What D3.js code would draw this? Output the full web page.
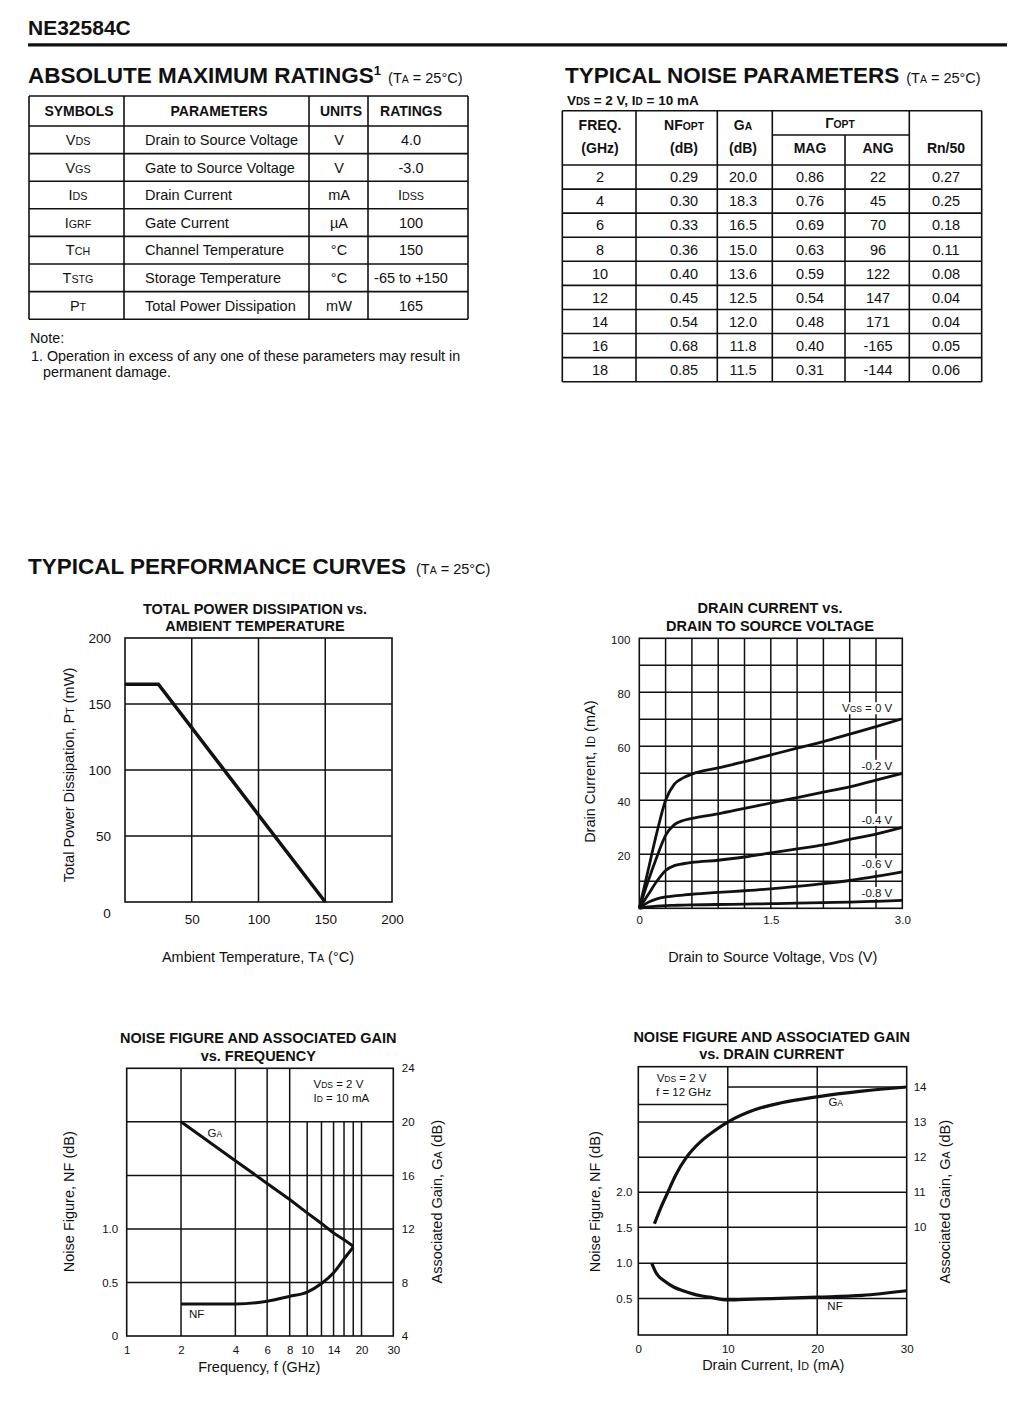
<!DOCTYPE html>
<html><head><meta charset="utf-8">
<script src="https://cdn.jsdelivr.net/npm/d3@7"></script>
<style>body{margin:0;background:#fff}svg{display:block;font-family:"Liberation Sans",Arial,Helvetica,sans-serif}</style>
</head><body><script>
// ================= DATA =================
// Absolute maximum ratings table
const amrSymbols = ["V~DS~","V~GS~","I~DS~","I~GRF~","T~CH~","T~STG~","P~T~"];
const amrParams  = ["Drain to Source Voltage","Gate to Source Voltage","Drain Current","Gate Current","Channel Temperature","Storage Temperature","Total Power Dissipation"];
const amrUnits   = ["V","V","mA","µA","°C","°C","mW"];
const amrRatings = ["4.0","-3.0","I~DSS~","100","150","-65 to +150","165"];

// Typical noise parameters table
const tnpFreq  = [2,4,6,8,10,12,14,16,18];
const tnpNFopt = [0.29,0.30,0.33,0.36,0.40,0.45,0.54,0.68,0.85];
const tnpGa    = [20.0,18.3,16.5,15.0,13.6,12.5,12.0,11.8,11.5];
const tnpMag   = [0.86,0.76,0.69,0.63,0.59,0.54,0.48,0.40,0.31];
const tnpAng   = [22,45,70,96,122,147,171,-165,-144];
const tnpRn    = [0.27,0.25,0.18,0.11,0.08,0.04,0.04,0.05,0.06];

// Chart 1: total power dissipation vs ambient temperature
const pdTemp  = [0,25,150];
const pdPower = [165,165,0];
const pdTicksX = [50,100,150,200];
const pdTicksY = [50,100,150,200];

// Chart 2: drain current vs drain-source voltage
const ivVds   = [0,0.1,0.2,0.3,0.4,0.5,0.6,0.9,1.2,1.5,1.8,2.1,2.4,2.7,3.0];
const ivVgs0  = [0,14,28,40,46,48.3,49.7,52,54.3,56.8,59.3,61.7,64.5,67.3,70.2];
const ivVgs02 = [0,10,19,27,31,32.5,33.3,35,37,39,41,43,45,47.5,50];
const ivVgs04 = [0,5,10,14,15.8,16.5,17,17.8,19,20.5,22,23.5,25.5,27.5,30];
const ivVgs06 = [0,2.2,3.5,4.2,4.6,4.9,5.2,5.9,6.5,7.2,8.1,9.1,10.3,11.8,13.5];
const ivVgs08 = [0,0.5,0.8,1.0,1.1,1.2,1.25,1.4,1.55,1.7,1.9,2.1,2.3,2.6,2.9];
const ivLabels = ["V~GS~ = 0 V","-0.2 V","-0.4 V","-0.6 V","-0.8 V"];
const ivTicksX = [0,1.5,3.0];
const ivTicksY = [20,40,60,80,100];

// Chart 3: NF and GA vs frequency
const nfFreq   = [2,4,6,8,10,12,14,16,18];
const nfVsFreq = [0.30,0.30,0.325,0.37,0.41,0.49,0.59,0.72,0.83];
const gaVsFreq = [20,17.1,15.4,14.2,13.2,12.4,11.7,11.2,10.7];
const fTicks   = [1,2,4,6,8,10,14,20,30];
const fFullGrid = [2,4,6,8];
const fPartGrid = [10,12,14,16,18,20];
const nfTicks3 = [0,0.5,1.0];
const gaTicks3 = [4,8,12,16,20,24];

// Chart 4: NF and GA vs drain current
const gaId   = [1.8,2.5,3.3,4.2,5.4,7,8.5,10,13,16,20,25,30];
const gaVsId = [10.1,10.55,11.0,11.5,12.0,12.45,12.75,13.0,13.35,13.55,13.72,13.88,14.0];
const nfId   = [1.5,2,3,4,5,6,7,8,10,12,15,20,25,30];
const nfVsId = [1.0,0.86,0.74,0.66,0.61,0.57,0.54,0.52,0.48,0.49,0.50,0.52,0.545,0.61];
const idTicks  = [0,10,20,30];
const nfTicks4 = [0.5,1.0,1.5,2.0];
const gaTicks4 = [10,11,12,13,14];

// ================= DRAWING =================
const INK = "#111";
const svg = d3.select("body").append("svg").attr("width",1026).attr("height",1404);
svg.append("rect").attr("width",1026).attr("height",1404).attr("fill","#fff");

function rich(g, x, y, str, o = {}) {
  const size = o.size || 14;
  const t = g.append("text").attr("x",x).attr("y",y)
    .attr("text-anchor",o.anchor || "start").attr("font-size",size)
    .attr("font-weight",o.weight || "normal").attr("fill",INK);
  if (o.dy) t.attr("dy",o.dy);
  if (o.rotate) t.attr("transform",`rotate(${o.rotate},${x},${y})`);
  String(str).split("~").forEach((s,i) => {
    if (!s) return;
    const ts = t.append("tspan").text(s);
    if (i % 2) ts.attr("font-size", size*0.74);
  });
  return t;
}
function line(g, x1,y1,x2,y2, w=1.5){
  g.append("line").attr("x1",x1).attr("y1",y1).attr("x2",x2).attr("y2",y2)
   .attr("stroke",INK).attr("stroke-width",w);
}
function addAxis(g, axis, tx, ty, size){
  const a = g.append("g").attr("transform",`translate(${tx},${ty})`).call(axis);
  a.attr("font-family",null).attr("font-size",size).attr("color",INK);
  a.select(".domain").remove();
  a.selectAll(".tick line").remove();
  return a;
}
function heading(g, x, y, main){
  const h = g.append("text").attr("x",x).attr("y",y).attr("font-size",22.5).attr("font-weight","bold").attr("fill",INK);
  h.append("tspan").text(main);
  return h;
}
function taSuffix(h, dx, dy){
  const a = h.append("tspan").attr("dx",dx).attr("font-weight","normal").attr("font-size",14.5).text("(T");
  if (dy) a.attr("dy", dy);
  h.append("tspan").attr("font-weight","normal").attr("font-size",10.5).text("A");
  h.append("tspan").attr("font-weight","normal").attr("font-size",14.5).text(" = 25°C)");
}

// ---- Page header
rich(svg, 28, 35, "NE32584C", {size:21, weight:"bold"});
line(svg, 28, 44.8, 1007, 44.8, 3.2);

// ---- Absolute maximum ratings
{
  const h = heading(svg, 28, 83, "ABSOLUTE MAXIMUM RATINGS");
  h.append("tspan").text("1").attr("font-size",13).attr("dy",-8);
  taSuffix(h, 7, 8);

  const g = svg.append("g");
  const cols = [29,124,309,368,468];
  const top = 96, headH = 30, rowH = 27.6;
  const n = amrSymbols.length;
  const rowY = d3.range(n+1).map(i => top+headH+i*rowH);
  const bottom = rowY[n];
  line(g, cols[0], top, cols[4], top, 1.6);
  rowY.forEach(y => line(g, cols[0], y, cols[4], y, 1.6));
  cols.forEach(x => line(g, x, top, x, bottom, 1.6));
  const hy = top + headH/2;
  [["SYMBOLS",79],["PARAMETERS",219],["UNITS",341],["RATINGS",411]].forEach(([t,x]) =>
    rich(g, x, hy, t, {size:14, weight:"bold", anchor:"middle", dy:".36em"}));
  amrSymbols.forEach((s,i) => {
    const cy = rowY[i] + rowH/2;
    rich(g, 78, cy, s, {size:14.5, anchor:"middle", dy:".36em"});
    rich(g, 145, cy, amrParams[i], {size:14.5, dy:".36em"});
    rich(g, 339, cy, amrUnits[i], {size:14.5, anchor:"middle", dy:".36em"});
    rich(g, 411, cy, amrRatings[i], {size:14.5, anchor:"middle", dy:".36em"});
  });
  rich(svg, 30, 343, "Note:", {size:14.3});
  rich(svg, 31, 361, "1. Operation in excess of any one of these parameters may result in", {size:14.3});
  rich(svg, 43, 377, "permanent damage.", {size:14.3});
}

// ---- Typical noise parameters
{
  const h = heading(svg, 565, 83, "TYPICAL NOISE PARAMETERS");
  taSuffix(h, 7);
  rich(svg, 567, 105, "V~DS~ = 2 V, I~D~ = 10 mA", {size:13.5, weight:"bold"});
  const g = svg.append("g");
  const cols = [562.3,636,717.3,772.3,845,909.3,981.7];
  const top = 110.7, sub = 135, headB = 165, rowH = 24.08;
  const n = tnpFreq.length;
  const rowY = d3.range(n+1).map(i => headB + i*rowH);
  const bottom = rowY[n];
  line(g, cols[0], top, cols[6], top, 1.6);
  line(g, cols[3], sub, cols[5], sub, 1.6);
  rowY.forEach(y => line(g, cols[0], y, cols[6], y, 1.6));
  cols.forEach((x,i) => line(g, x, i===4 ? sub : top, x, bottom, 1.6));
  const l1 = 125, l2 = 148;
  const cx = [600,684,743,810,878,946];
  const hb = {size:14, weight:"bold", anchor:"middle", dy:".36em"};
  rich(g, cx[0], l1, "FREQ.", hb); rich(g, cx[0], l2, "(GHz)", hb);
  rich(g, cx[1], l1, "NF~OPT~", hb); rich(g, cx[1], l2, "(dB)", hb);
  rich(g, cx[2], l1, "G~A~", hb); rich(g, cx[2], l2, "(dB)", hb);
  rich(g, 840, 123, "Γ~OPT~", hb);
  rich(g, cx[3], l2, "MAG", hb); rich(g, cx[4], l2, "ANG", hb); rich(g, cx[5], l2, "Rn/50", hb);
  const f2 = d3.format(".2f"), f1 = d3.format(".1f");
  tnpFreq.forEach((f,i) => {
    const cy = rowY[i] + rowH/2;
    const vals = [String(f), f2(tnpNFopt[i]), f1(tnpGa[i]), f2(tnpMag[i]), String(tnpAng[i]), f2(tnpRn[i])];
    vals.forEach((v,j) => rich(g, cx[j], cy, v, {size:14.5, anchor:"middle", dy:".36em"}));
  });
}

// ---- Section heading
{
  const h = heading(svg, 28, 574, "TYPICAL PERFORMANCE CURVES");
  taSuffix(h, 10);
}

function chartTitle(x, y1, y2, a, b){
  rich(svg, x, y1, a, {size:14.5, weight:"bold", anchor:"middle"});
  rich(svg, x, y2, b, {size:14.5, weight:"bold", anchor:"middle"});
}

// ---- Chart 1
{
  const g = svg.append("g");
  const x = d3.scaleLinear().domain([0,200]).range([125,392]);
  const y = d3.scaleLinear().domain([0,200]).range([902,638]);
  chartTitle(255, 614, 631, "TOTAL POWER DISSIPATION vs.", "AMBIENT TEMPERATURE");
  pdTicksX.slice(0,-1).forEach(v => line(g, x(v), y(200), x(v), y(0)));
  pdTicksY.slice(0,-1).forEach(v => line(g, x(0), y(v), x(200), y(v)));
  g.append("rect").attr("x",x(0)).attr("y",y(200)).attr("width",x(200)-x(0)).attr("height",y(0)-y(200))
    .attr("fill","none").attr("stroke",INK).attr("stroke-width",1.6);
  addAxis(g, d3.axisLeft(y).tickValues(pdTicksY).tickSize(0).tickPadding(14), x(0), 0, 13.5);
  addAxis(g, d3.axisBottom(x).tickValues(pdTicksX).tickSize(0).tickPadding(12), 0, y(0), 13.5);
  rich(g, x(0)-18, y(0)+11, "0", {size:13.5, anchor:"middle", dy:".35em"});
  const pts = pdTemp.map((t,i) => [t, pdPower[i]]);
  g.append("path").attr("d", d3.line().x(d=>x(d[0])).y(d=>y(d[1]))(pts))
    .attr("fill","none").attr("stroke",INK).attr("stroke-width",3.5);
  rich(g, 258, 957, "Ambient Temperature, T~A~ (°C)", {size:14.5, anchor:"middle", dy:".35em"});
  rich(g, 68.5, 775, "Total Power Dissipation, P~T~ (mW)", {size:14.5, anchor:"middle", dy:".35em", rotate:-90});
}

// ---- Chart 2
{
  const g = svg.append("g");
  const x = d3.scaleLinear().domain([0,3]).range([639.3,902.3]);
  const y = d3.scaleLinear().domain([0,100]).range([908.3,638.3]);
  chartTitle(770, 613, 630.5, "DRAIN CURRENT vs.", "DRAIN TO SOURCE VOLTAGE");
  d3.range(1,10).forEach(i => line(g, x(i*0.3), y(100), x(i*0.3), y(0)));
  d3.range(1,10).forEach(i => line(g, x(0), y(i*10), x(3), y(i*10)));
  g.append("rect").attr("x",x(0)).attr("y",y(100)).attr("width",x(3)-x(0)).attr("height",y(0)-y(100))
    .attr("fill","none").attr("stroke",INK).attr("stroke-width",1.6);
  addAxis(g, d3.axisLeft(y).tickValues(ivTicksY).tickSize(0).tickPadding(9), x(0), 1.5, 11.5);
  addAxis(g, d3.axisBottom(x).tickValues(ivTicksX).tickSize(0).tickPadding(8)
    .tickFormat(d => d === 0 ? "0" : d3.format(".1f")(d)), 0, y(0), 11.5);
  const series = [ivVgs0, ivVgs02, ivVgs04, ivVgs06, ivVgs08];
  const ln = d3.line().x((d,i)=>x(ivVds[i])).y(d=>y(d)).curve(d3.curveMonotoneX);
  series.forEach((s,k) => {
    g.append("path").attr("d", ln(s)).attr("fill","none").attr("stroke",INK).attr("stroke-width",2.8)
      .attr("stroke-linejoin","round");
  });
  series.forEach((s,k) => {
    const ty = y(s[s.length-1]) - (k===0 ? 10.5 : 7.5);
    const t = rich(g, x(3)-10, ty, ivLabels[k], {size:11.5, anchor:"end", dy:".35em"});
    const bb = t.node().getBBox();
    g.insert("rect", () => t.node()).attr("x",bb.x-2).attr("y",bb.y).attr("width",bb.width+4).attr("height",bb.height)
      .attr("fill","#fff");
  });
  rich(g, 772.7, 956.7, "Drain to Source Voltage, V~DS~ (V)", {size:14.5, anchor:"middle", dy:".35em"});
  rich(g, 590, 771.7, "Drain Current, I~D~ (mA)", {size:14.5, anchor:"middle", dy:".35em", rotate:-90});
}

// ---- Chart 3
{
  const g = svg.append("g");
  const x = d3.scaleLog().domain([1,30]).range([126.7,393.3]);
  const yNF = d3.scaleLinear().domain([0,2.5]).range([1336,1068.3]);
  const yGA = d3.scaleLinear().domain([4,24]).range([1336,1068.3]);
  chartTitle(258.3, 1043.3, 1060.7, "NOISE FIGURE AND ASSOCIATED GAIN", "vs. FREQUENCY");
  fFullGrid.forEach(v => line(g, x(v), yGA(24), x(v), yGA(4)));
  fPartGrid.forEach(v => line(g, x(v), yGA(20), x(v), yGA(4)));
  [8,12,16,20].forEach(v => line(g, x(1), yGA(v), x(30), yGA(v)));
  g.append("rect").attr("x",x(1)).attr("y",yGA(24)).attr("width",x(30)-x(1)).attr("height",yGA(4)-yGA(24))
    .attr("fill","none").attr("stroke",INK).attr("stroke-width",1.6);
  addAxis(g, d3.axisBottom(x).tickValues(fTicks).tickSize(0).tickPadding(10).tickFormat(d3.format("d")), 0, yGA(4), 11.5);
  addAxis(g, d3.axisLeft(yNF).tickValues(nfTicks3).tickSize(0).tickPadding(8.5)
    .tickFormat(d => d === 0 ? "0" : d3.format(".1f")(d)), x(1), 0, 11.5);
  addAxis(g, d3.axisRight(yGA).tickValues(gaTicks3).tickSize(0).tickPadding(8.5).tickFormat(d3.format("d")), x(30), 0, 11.5);
  g.append("path").attr("d", d3.line().x((d,i)=>x(nfFreq[i])).y(d=>yGA(d))(gaVsFreq))
    .attr("fill","none").attr("stroke",INK).attr("stroke-width",3);
  g.append("path").attr("d", d3.line().x((d,i)=>x(nfFreq[i])).y(d=>yNF(d)).curve(d3.curveMonotoneX)(nfVsFreq))
    .attr("fill","none").attr("stroke",INK).attr("stroke-width",3);
  rich(g, x(3.08), yGA(19.15), "G~A~", {size:11.5, anchor:"middle", dy:".35em"});
  rich(g, x(2.44), yNF(0.205), "NF", {size:11.5, anchor:"middle", dy:".35em"});
  rich(g, 313.5, 1084, "V~DS~ = 2 V", {size:11.5, dy:".35em"});
  rich(g, 313.5, 1098, "I~D~ = 10 mA", {size:11.5, dy:".35em"});
  rich(g, 259.3, 1366.7, "Frequency, f (GHz)", {size:14.5, anchor:"middle", dy:".35em"});
  rich(g, 68.5, 1201.7, "Noise Figure, NF (dB)", {size:14.5, anchor:"middle", dy:".35em", rotate:-90});
  rich(g, 436.7, 1201.7, "Associated Gain, G~A~ (dB)", {size:14.5, anchor:"middle", dy:".35em", rotate:-90});
}

// ---- Chart 4
{
  const g = svg.append("g");
  const x = d3.scaleLinear().domain([0,30]).range([638.3,906.7]);
  const yNF = d3.scaleLinear().domain([0,2]).range([1334,1192.3]);
  const yGA = d3.scaleLinear().domain([10,14]).range([1227.3,1087]);
  const top = 1066.7, bottom = 1335;
  chartTitle(771.7, 1041.7, 1059.3, "NOISE FIGURE AND ASSOCIATED GAIN", "vs. DRAIN CURRENT");
  [10,20].forEach(v => line(g, x(v), top, x(v), bottom));
  [0.5,1.0].forEach(v => line(g, x(0), yNF(v), x(30), yNF(v)));
  [10,11,12,13].forEach(v => line(g, x(0), yGA(v), x(30), yGA(v)));
  line(g, x(10), yGA(14), x(30), yGA(14));
  line(g, x(0), yGA(13.5), x(10), yGA(13.5));
  g.append("rect").attr("x",x(0)).attr("y",top).attr("width",x(30)-x(0)).attr("height",bottom-top)
    .attr("fill","none").attr("stroke",INK).attr("stroke-width",1.6);
  addAxis(g, d3.axisBottom(x).tickValues(idTicks).tickSize(0).tickPadding(10).tickFormat(d3.format("d")), 0, bottom, 11.5);
  addAxis(g, d3.axisLeft(yNF).tickValues(nfTicks4).tickSize(0).tickPadding(6).tickFormat(d3.format(".1f")), x(0), 0, 11.5);
  addAxis(g, d3.axisRight(yGA).tickValues(gaTicks4).tickSize(0).tickPadding(7).tickFormat(d3.format("d")), x(30), 0, 11.5);
  g.append("path").attr("d", d3.line().x((d,i)=>x(gaId[i])).y(d=>yGA(d)).curve(d3.curveMonotoneX)(gaVsId))
    .attr("fill","none").attr("stroke",INK).attr("stroke-width",3.2);
  g.append("path").attr("d", d3.line().x((d,i)=>x(nfId[i])).y(d=>yNF(d)).curve(d3.curveMonotoneX)(nfVsId))
    .attr("fill","none").attr("stroke",INK).attr("stroke-width",3.2);
  rich(g, 835.7, 1101.7, "G~A~", {size:11.5, anchor:"middle", dy:".35em"});
  rich(g, 835, 1306, "NF", {size:11.5, anchor:"middle", dy:".35em"});
  rich(g, 656.7, 1078.3, "V~DS~ = 2 V", {size:11.5, dy:".35em"});
  rich(g, 656, 1091.7, "f = 12 GHz", {size:11.5, dy:".35em"});
  rich(g, 773.3, 1365, "Drain Current, I~D~ (mA)", {size:14.5, anchor:"middle", dy:".35em"});
  rich(g, 595, 1201.7, "Noise Figure, NF (dB)", {size:14.5, anchor:"middle", dy:".35em", rotate:-90});
  rich(g, 945, 1201.7, "Associated Gain, G~A~ (dB)", {size:14.5, anchor:"middle", dy:".35em", rotate:-90});
}
</script></body></html>
